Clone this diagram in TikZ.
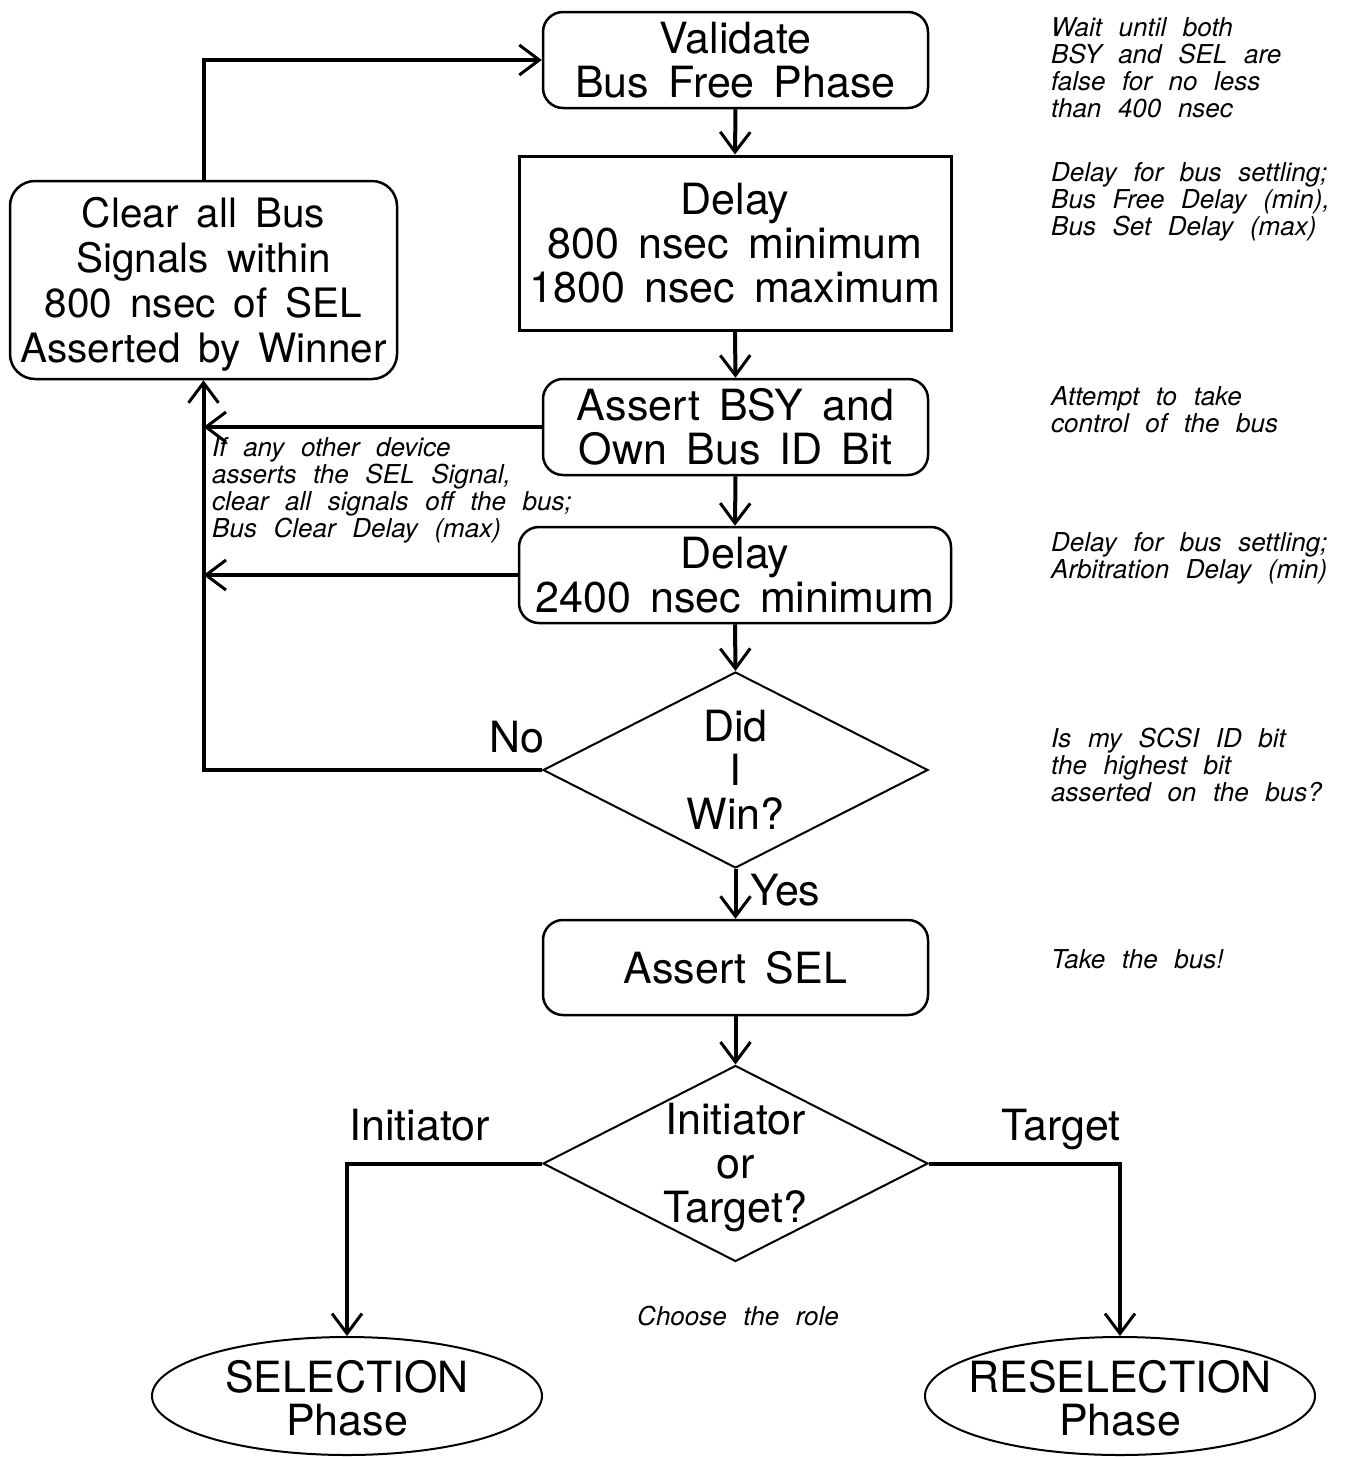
\documentclass[tikz,border=0pt]{standalone}
\usepackage{fontspec}
\setmainfont{TeX Gyre Heros}[WordSpace=1.6]
\newfontfamily\notefont{TeX Gyre Heros}[WordSpace=2.3]
\usetikzlibrary{arrows.meta,shapes.geometric}
\newcommand\flowsize{\fontsize{43}{44}\selectfont}
\newcommand\notesize{\notefont\itshape\fontsize{26}{26.7}\selectfont}

\begin{document}
\begin{tikzpicture}[x=1pt,y=-1pt,
  stepbox/.style={draw,line width=2.5pt,rounded corners=20pt,align=center,
    font=\flowsize,inner sep=0pt,minimum width=385pt,minimum height=96pt},
  waitbox/.style={draw,line width=3pt,align=center,font=\flowsize,inner sep=0pt},
  decision/.style={draw,diamond,line width=2pt,inner sep=0pt,
    minimum width=385pt,minimum height=196pt},
  phase/.style={draw,ellipse,line width=2pt,inner sep=0pt,
    minimum width=390pt,minimum height=118pt},
  phasetext/.style={font=\fontsize{43}{43}\selectfont,align=center,inner sep=0pt},
  label/.style={font=\flowsize,inner sep=0pt},
  note/.style={font=\notesize,align=left,inner sep=0pt,anchor=base west},
  flow/.style={line width=4pt,-{Straight Barb[length=20pt,width=30pt,line width=3pt]}}]

\useasboundingbox[fill=white] (0,0) rectangle (1345,1457);

% main column
\node[stepbox] (validate) at (735.5,60) {Validate\\Bus Free Phase};
\node[waitbox,minimum width=432pt,minimum height=174pt] (delayA) at (735,243)
  {Delay\\800 nsec minimum\\1800 nsec maximum};
\node[stepbox] (bsy) at (735.5,427) {Assert BSY and\\Own Bus ID Bit};
\node[stepbox,minimum width=432pt] (delayB) at (735,575) {Delay\\2400 nsec minimum};
\node[decision] (win) at (735.5,770) {};
\node[label,align=center] (wintext) at (win.center) {Did\\I\\Win?};
\node[stepbox,minimum height=95pt] (sel) at (735.5,967.5) {Assert SEL};
\node[decision] (role) at (735.5,1163.5) {};
\node[label,align=center] (roletext) at ([yshift=-4pt]role.center) {Initiator\\or\\Target?};

% recovery box
\node[stepbox,rounded corners=25pt,minimum width=387pt,minimum height=198pt,
  font=\fontsize{40.5}{45}\selectfont,text depth=0pt]
  (clear) at (203.5,280) {Clear all Bus\\Signals within\\800 nsec of SEL\\Asserted by Winner};

% end states
\node[phase] (selph) at (347,1396) {};
\node[phasetext] (seltext) at ([yshift=-2pt]selph.center) {SELECTION\\Phase};
\node[phase] (reselph) at (1120,1396) {};
\node[phasetext] (reseltext) at ([yshift=-2pt]reselph.center) {RESELECTION\\Phase};

% connectors down the column
\draw[flow] (validate.south) -- (delayA.north);
\draw[flow] (delayA.south) -- (bsy.north);
\draw[flow] (bsy.south) -- (delayB.north);
\draw[flow] (delayB.south) -- (win.north);
\draw[flow] (win.south) -- (sel.north);
\draw[flow] (sel.south) -- (role.north);

% losing path and abort paths
\draw[flow] (win.west) -- (clear.south |- win.west) -- (clear.south);
\draw[flow] (bsy.west) -- (clear.south |- bsy.west);
\draw[flow] (delayB.west) -- (clear.south |- delayB.west);
\draw[flow] (clear.north) -- (clear.north |- validate.west) -- (validate.west);

% role branches
\draw[flow] (role.west) -| (selph.north);
\draw[flow] (role.east) -| (reselph.north);

% branch labels
\node[label,anchor=base] (no) at (517,752) {No};
\node[label,anchor=base west] (yes) at (750,905) {Yes};
\node[label,anchor=base west] (ini) at (349,1140) {Initiator};
\node[label,anchor=base east] (tgt) at (1121,1140) {Target};

% comments (anchored at the baseline of their last line)
\node[note] (n1) at (1051,117) {Wait until both\\BSY and SEL are\\false for no less\\than 400 nsec};
\node[note] (n2) at (1051,235) {Delay for bus settling;\\Bus Free Delay (min),\\Bus Set Delay (max)};
\node[note] (n3) at (1051,432) {Attempt to take\\control of the bus};
\node[note] (n4) at (1051,578) {Delay for bus settling;\\Arbitration Delay (min)};
\node[note] (n5) at (1051,801) {Is my SCSI ID bit\\the highest bit\\asserted on the bus?};
\node[note] (n6) at (1051,968) {Take the bus!};
\node[note] (n7) at (212,537) {If any other device\\asserts the SEL Signal,\\clear all signals off the bus;\\Bus Clear Delay (max)};
\node[note,anchor=base] (n8) at (738,1325) {Choose the role};
\end{tikzpicture}
\end{document}
